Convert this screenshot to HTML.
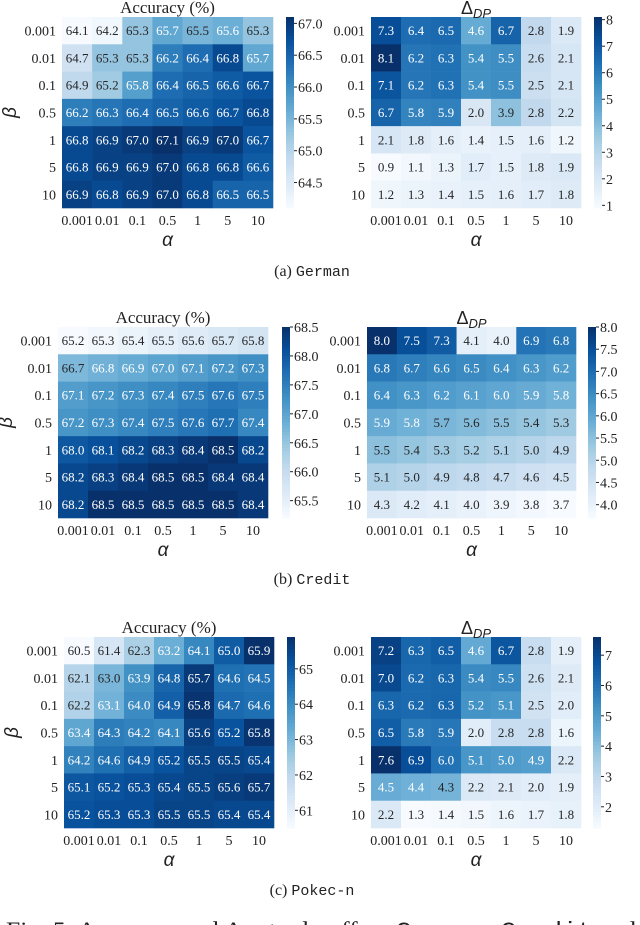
<!DOCTYPE html>
<html><head><meta charset="utf-8"><style>
html,body{margin:0;padding:0;background:#fff;}
svg{display:block;}
.serif{font-family:"Liberation Serif",serif;}
.sans{font-family:"Liberation Sans",sans-serif;}
.mono{font-family:"Liberation Mono",monospace;}
</style></head><body>
<svg id="fig" width="640" height="925" viewBox="0 0 640 925" xmlns="http://www.w3.org/2000/svg">
<g id="layer"></g>
<text class="serif" x="312" y="276" font-size="16" text-anchor="middle" fill="#222">(a) <tspan class="mono" font-size="15">German</tspan></text>
<text class="serif" x="312" y="584" font-size="16" text-anchor="middle" fill="#222">(b) <tspan class="mono" font-size="15">Credit</tspan></text>
<text class="serif" x="312" y="895" font-size="16" text-anchor="middle" fill="#222">(c) <tspan class="mono" font-size="15">Pokec-n</tspan></text>
<text class="serif" x="6" y="937" font-size="22" textLength="630" lengthAdjust="spacingAndGlyphs" fill="#222">Fig. 5: Accuracy and Δ<tspan font-size="14" dy="4">DP</tspan><tspan dy="-4"> trade-off on </tspan><tspan class="mono">German</tspan>, <tspan class="mono">Credit</tspan> and</text>
</svg>
<script>
const alphaLabels = ["0.001","0.01","0.1","0.5","1","5","10"];
const betaLabels = ["0.001","0.01","0.1","0.5","1","5","10"];
const germanAcc = [
[64.1,64.2,65.3,65.7,65.5,65.6,65.3],
[64.7,65.3,65.3,66.2,66.4,66.8,65.7],
[64.9,65.2,65.8,66.4,66.5,66.6,66.7],
[66.2,66.3,66.4,66.5,66.6,66.7,66.8],
[66.8,66.9,67.0,67.1,66.9,67.0,66.7],
[66.8,66.9,66.9,67.0,66.8,66.8,66.6],
[66.9,66.8,66.9,67.0,66.8,66.5,66.5]];
const germanDP = [
[7.3,6.4,6.5,4.6,6.7,2.8,1.9],
[8.1,6.2,6.3,5.4,5.5,2.6,2.1],
[7.1,6.2,6.3,5.4,5.5,2.5,2.1],
[6.7,5.8,5.9,2.0,3.9,2.8,2.2],
[2.1,1.8,1.6,1.4,1.5,1.6,1.2],
[0.9,1.1,1.3,1.7,1.5,1.8,1.9],
[1.2,1.3,1.4,1.5,1.6,1.7,1.8]];
const creditAcc = [
[65.2,65.3,65.4,65.5,65.6,65.7,65.8],
[66.7,66.8,66.9,67.0,67.1,67.2,67.3],
[67.1,67.2,67.3,67.4,67.5,67.6,67.5],
[67.2,67.3,67.4,67.5,67.6,67.7,67.4],
[68.0,68.1,68.2,68.3,68.4,68.5,68.2],
[68.2,68.3,68.4,68.5,68.5,68.4,68.4],
[68.2,68.5,68.5,68.5,68.5,68.5,68.4]];
const creditDP = [
[8.0,7.5,7.3,4.1,4.0,6.9,6.8],
[6.8,6.7,6.6,6.5,6.4,6.3,6.2],
[6.4,6.3,6.2,6.1,6.0,5.9,5.8],
[5.9,5.8,5.7,5.6,5.5,5.4,5.3],
[5.5,5.4,5.3,5.2,5.1,5.0,4.9],
[5.1,5.0,4.9,4.8,4.7,4.6,4.5],
[4.3,4.2,4.1,4.0,3.9,3.8,3.7]];
const pokecAcc = [
[60.5,61.4,62.3,63.2,64.1,65.0,65.9],
[62.1,63.0,63.9,64.8,65.7,64.6,64.5],
[62.2,63.1,64.0,64.9,65.8,64.7,64.6],
[63.4,64.3,64.2,64.1,65.6,65.2,65.8],
[64.2,64.6,64.9,65.2,65.5,65.5,65.4],
[65.1,65.2,65.3,65.4,65.5,65.6,65.7],
[65.2,65.3,65.3,65.5,65.5,65.4,65.4]];
const pokecDP = [
[7.2,6.3,6.5,4.6,6.7,2.8,1.9],
[7.0,6.2,6.3,5.4,5.5,2.6,2.1],
[6.3,6.2,6.3,5.2,5.1,2.5,2.0],
[6.5,5.8,5.9,2.0,2.8,2.8,1.6],
[7.6,6.9,6.0,5.1,5.0,4.9,2.2],
[4.5,4.4,4.3,2.2,2.1,2.0,1.9],
[2.2,1.3,1.4,1.5,1.6,1.7,1.8]];
const germanAccTicks = [64.5,65.0,65.5,66.0,66.5,67.0];
const germanDPTicks = [1,2,3,4,5,6,7,8];
const creditAccTicks = [65.5,66.0,66.5,67.0,67.5,68.0,68.5];
const creditDPTicks = [4.0,4.5,5.0,5.5,6.0,6.5,7.0,7.5,8.0];
const pokecAccTicks = [61,62,63,64,65];
const pokecDPTicks = [2,3,4,5,6,7];

const NS="http://www.w3.org/2000/svg";
const layer=document.getElementById('layer');
const blues=["#f7fbff","#deebf7","#c6dbef","#9ecae1","#6baed6","#4292c6","#2171b5","#08519c","#08306b"];
function hex(h){return [1,3,5].map(i=>parseInt(h.substr(i,2),16));}
function cmap(t){t=Math.max(0,Math.min(1,t));const p=t*8;const i=Math.min(7,Math.floor(p));const f=p-i;const a=hex(blues[i]),b=hex(blues[i+1]);return a.map((v,k)=>Math.round(v+(b[k]-v)*f));}
function lum(c){const l=c.map(v=>{v/=255;return v<=0.03928?v/12.92:Math.pow((v+0.055)/1.055,2.4);});return 0.2126*l[0]+0.7152*l[1]+0.0722*l[2];}
function mk(tag,attrs,parent,txt){const e=document.createElementNS(NS,tag);for(const k in attrs)e.setAttribute(k,attrs[k]);if(txt!==undefined)e.textContent=txt;parent.appendChild(e);return e;}

function heatmap(cfg,data,ticks){
  const g=mk('g',{},layer);
  
  
  const flat=data.flat();const vmin=Math.min(...flat),vmax=Math.max(...flat);
  const nr=data.length,nc=data[0].length;
  const cw=(cfg.x1-cfg.x0)/nc,ch=(cfg.y1-cfg.y0)/nr;
  const xPos=j=>cfg.x0+j*cw, yPos=i=>cfg.y0+i*ch;
  data.forEach((row,i)=>row.forEach((v,j)=>{
    const c=cmap((v-vmin)/(vmax-vmin));
    const r=mk('rect',{x:xPos(j),y:yPos(i),width:cw+0.3,height:ch+0.3,fill:`rgb(${c})`},g);
    
    
    const t=mk('text',{x:xPos(j)+cw/2,y:yPos(i)+ch/2+4.5,'font-size':13,'text-anchor':'middle',fill:lum(c)>0.408?'#262626':'#ffffff','class':'serif'},g,v.toFixed(1));
    
    
  }));
  alphaLabels.forEach((l,j)=>{
    const t=mk('text',{x:xPos(j)+cw/2,y:cfg.y1+17,'font-size':14,'text-anchor':'middle',fill:'#222','class':'serif'},g,l);
    
    
  });
  betaLabels.forEach((l,i)=>{
    const t=mk('text',{x:cfg.x0-6,y:yPos(i)+ch/2+5,'font-size':14,'text-anchor':'end',fill:'#222','class':'serif'},g,l);
    
    
  });
  const xt=mk('text',{x:(cfg.x0+cfg.x1)/2,y:cfg.y1+38,'font-size':19,'text-anchor':'middle','font-style':'italic',fill:'#222','class':'sans'},g,'α');
  
  
  if(cfg.beta){
    const yt=mk('text',{x:0,y:0,'font-size':19,'text-anchor':'middle','font-style':'italic',fill:'#222','class':'sans',transform:`translate(${cfg.x0-46},${(cfg.y0+cfg.y1)/2}) rotate(-90)`},g,'β');
    
    
  }
  let tt;
  if(cfg.dp){
    tt=mk('text',{x:(cfg.x0+cfg.x1)/2,y:cfg.y0-3,'font-size':18,'text-anchor':'middle',fill:'#222','class':'sans'},g,'Δ');
    mk('tspan',{'font-size':13,'font-style':'italic',dy:4},tt,'DP');
  } else {
    tt=mk('text',{x:(cfg.x0+cfg.x1)/2,y:cfg.y0-4,'font-size':17,'text-anchor':'middle',fill:'#222','class':'serif'},g,'Accuracy (%)');
  }
  
  
  const cb=mk('g',{},g);
  
  
  const n=60,hh=(cfg.y1-cfg.y0)/n;
  for(let k=0;k<n;k++){
    const c=cmap(1-(k+0.5)/n);
    mk('rect',{x:cfg.cb,y:cfg.y0+k*hh,width:8,height:hh+0.4,fill:`rgb(${c})`},cb);
  }
  const vy=v=>cfg.y1-(v-vmin)/(vmax-vmin)*(cfg.y1-cfg.y0);
  ticks.forEach(v=>{
    const y=vy(v);
    mk('line',{x1:cfg.cb+8,x2:cfg.cb+11,y1:y,y2:y,stroke:'#222','stroke-width':1},cb);
    const t=mk('text',{x:cfg.cb+12,y:y+5,'font-size':14,fill:'#222','class':'serif'},cb,cfg.intTicks?String(v):v.toFixed(cfg.dec));
    
    
  });
}
heatmap({name:'german-accuracy-heatmap',x0:62,x1:273,y0:17,y1:208,cb:286,beta:true,dp:false,dec:1},germanAcc,germanAccTicks);
heatmap({name:'german-dp-heatmap',x0:371,x1:581,y0:17,y1:208,cb:594,beta:false,dp:true,intTicks:true},germanDP,germanDPTicks);
heatmap({name:'credit-accuracy-heatmap',x0:58,x1:268,y0:327,y1:518,cb:282,beta:true,dp:false,dec:1},creditAcc,creditAccTicks);
heatmap({name:'credit-dp-heatmap',x0:367,x1:576,y0:327,y1:518,cb:588,beta:false,dp:true,dec:1},creditDP,creditDPTicks);
heatmap({name:'pokec-accuracy-heatmap',x0:64,x1:274,y0:637,y1:828,cb:287,beta:true,dp:false,intTicks:true},pokecAcc,pokecAccTicks);
heatmap({name:'pokec-dp-heatmap',x0:371,x1:581,y0:637,y1:828,cb:593,beta:false,dp:true,intTicks:true},pokecDP,pokecDPTicks);
</script>
</body></html>
